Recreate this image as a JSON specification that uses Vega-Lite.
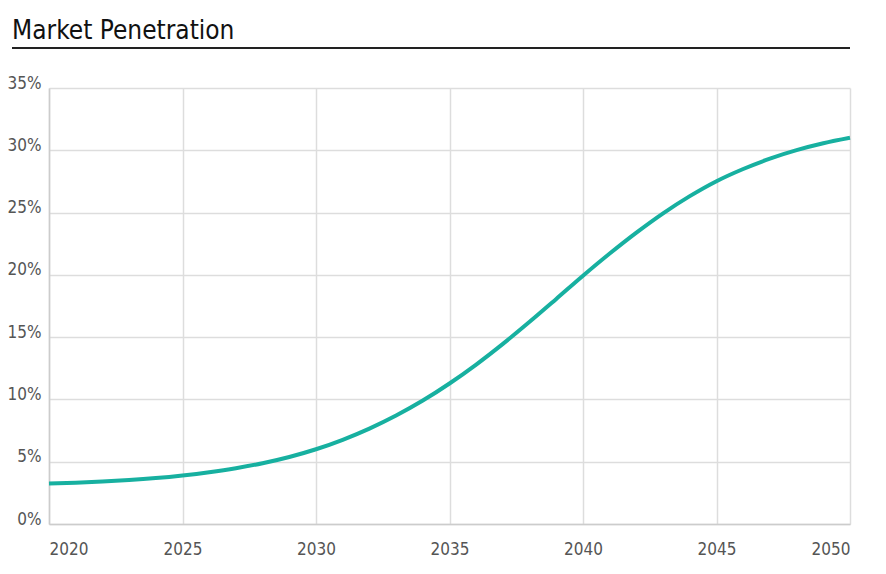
{
  "$schema": "https://vega.github.io/schema/vega-lite/v6.json",
  "width": 801,
  "height": 436,
  "autosize": "none",
  "padding": {"left": 49, "top": 88, "right": 36, "bottom": 50},
  "background": "white",
  "title": {
    "text": "Market Penetration",
    "anchor": "start",
    "frame": "group",
    "dx": -37,
    "offset": 4,
    "font": "'DejaVu Sans Condensed', 'Liberation Sans Narrow', Roboto, sans-serif",
    "fontSize": 26,
    "fontWeight": "normal",
    "color": "#111111"
  },
  "config": {
    "view": {"stroke": null},
    "axis": {
      "labelFont": "'DejaVu Sans Condensed', 'Liberation Sans Narrow', Roboto, sans-serif",
      "labelFontSize": 17,
      "labelColor": "#555555",
      "gridColor": "#dddddd",
      "gridWidth": 1.5,
      "domainColor": "#cccccc",
      "domainWidth": 1.5,
      "ticks": false,
      "title": null
    }
  },
  "data": {
    "values": [
      {"year": 2020, "share": 3.25},
      {"year": 2021, "share": 3.32},
      {"year": 2022, "share": 3.41},
      {"year": 2023, "share": 3.53},
      {"year": 2024, "share": 3.69},
      {"year": 2025, "share": 3.9},
      {"year": 2026, "share": 4.16},
      {"year": 2027, "share": 4.48},
      {"year": 2028, "share": 4.88},
      {"year": 2029, "share": 5.38},
      {"year": 2030, "share": 6.0},
      {"year": 2031, "share": 6.76},
      {"year": 2032, "share": 7.66},
      {"year": 2033, "share": 8.71},
      {"year": 2034, "share": 9.91},
      {"year": 2035, "share": 11.28},
      {"year": 2036, "share": 12.8},
      {"year": 2037, "share": 14.46},
      {"year": 2038, "share": 16.23},
      {"year": 2039, "share": 18.07},
      {"year": 2040, "share": 19.93},
      {"year": 2041, "share": 21.71},
      {"year": 2042, "share": 23.39},
      {"year": 2043, "share": 24.94},
      {"year": 2044, "share": 26.32},
      {"year": 2045, "share": 27.52},
      {"year": 2046, "share": 28.5},
      {"year": 2047, "share": 29.33},
      {"year": 2048, "share": 30.01},
      {"year": 2049, "share": 30.56},
      {"year": 2050, "share": 31.0}
    ]
  },
  "layer": [
    {
      "mark": {"type": "line", "color": "#17b0a0", "strokeWidth": 4, "interpolate": "monotone"},
      "encoding": {
        "x": {
          "field": "year",
          "type": "quantitative",
          "scale": {"domain": [2020, 2050], "nice": false, "zero": false},
          "axis": {
            "values": [2020, 2025, 2030, 2035, 2040, 2045, 2050],
            "format": "d",
            "labelPadding": 17,
            "grid": true
          }
        },
        "y": {
          "field": "share",
          "type": "quantitative",
          "scale": {"domain": [0, 35], "nice": false},
          "axis": {
            "values": [0, 5, 10, 15, 20, 25, 30, 35],
            "labelExpr": "datum.value + '%'",
            "labelPadding": 8,
            "labelOffset": -5,
            "grid": true
          }
        }
      }
    },
    {
      "mark": {"type": "rule", "color": "#222222", "strokeWidth": 1, "xOffset": -37, "yOffset": -40},
      "encoding": {
        "x": {"datum": 2020},
        "x2": {"datum": 2050},
        "y": {"datum": 35}
      }
    }
  ]
}
